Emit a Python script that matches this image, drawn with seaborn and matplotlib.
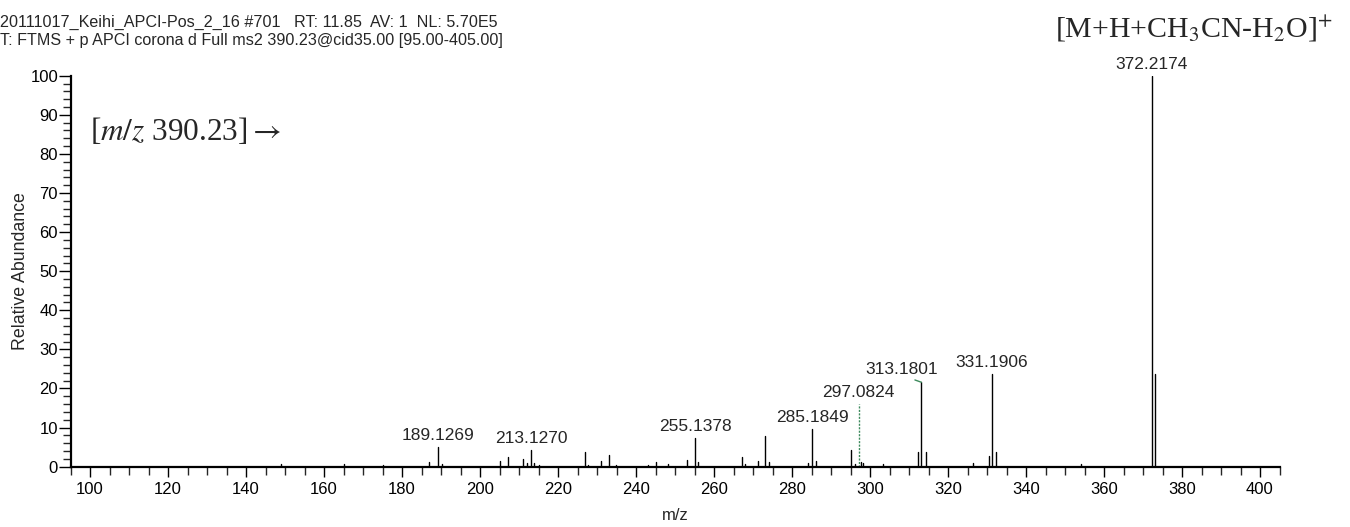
import matplotlib
matplotlib.use("Agg")
import matplotlib.pyplot as plt
from matplotlib.ticker import MultipleLocator
import seaborn as sns
import pandas as pd

# ---- data ----
peak_mz = [149.0, 165.0, 175.0, 187.0, 189.1269, 190.2,
           205.2, 207.1, 211.1, 212.0, 213.1270, 213.9, 215.0,
           227.0, 227.8, 231.1, 233.1, 234.8, 243.0, 245.1, 248.1, 253.2, 255.1378, 256.0,
           267.1, 268.0, 271.2, 273.1, 274.1, 284.2, 285.1849, 286.2,
           295.2, 296.2, 297.7, 298.3,
           303.4, 312.4, 313.1801, 314.3, 326.3, 330.4, 331.1906, 332.3,
           354.1, 372.2174, 373.0]
peak_abund = [0.7, 0.6, 0.5, 1.2, 5.1, 0.6,
              1.5, 2.4, 1.9, 1.0, 4.3, 1.0, 0.5,
              3.7, 0.5, 1.5, 3.0, 0.5, 0.5, 1.1, 0.8, 1.7, 7.3, 1.2,
              2.4, 0.6, 1.4, 7.9, 1.2, 1.0, 9.6, 1.5,
              4.3, 0.8, 1.2, 1.0,
              0.8, 3.7, 21.6, 3.8, 0.9, 2.7, 23.7, 3.8,
              0.7, 100.0, 23.7]

green_mz = [297.0824]
green_abund = [16.0]

label_mz = [189.1269, 213.1270, 255.1378, 285.1849, 297.0824, 313.1801, 331.1906, 372.2174]
label_text = ["189.1269", "213.1270", "255.1378", "285.1849", "297.0824", "313.1801", "331.1906", "372.2174"]

x_ticks = [100, 120, 140, 160, 180, 200, 220, 240, 260, 280, 300, 320, 340, 360, 380, 400]
y_ticks = [0, 10, 20, 30, 40, 50, 60, 70, 80, 90, 100]

header1 = "20111017_Keihi_APCI-Pos_2_16 #701   RT: 11.85  AV: 1  NL: 5.70E5"
header2 = "T: FTMS + p APCI corona d Full ms2 390.23@cid35.00 [95.00-405.00]"

# ---- build stick table ----
rows = []
for i, (m, a) in enumerate(zip(peak_mz, peak_abund)):
    rows.append({"peak": i, "mz": m, "abund": 0.0})
    rows.append({"peak": i, "mz": m, "abund": a})
df = pd.DataFrame(rows)
grows = []
for i, (m, a) in enumerate(zip(green_mz, green_abund)):
    grows.append({"peak": i, "mz": m, "abund": 0.0})
    grows.append({"peak": i, "mz": m, "abund": a})
gdf = pd.DataFrame(grows)

sns.set_theme(style="ticks")
plt.rcParams["font.family"] = ["Liberation Sans", "DejaVu Sans"]
plt.rcParams["mathtext.fontset"] = "stix"

fig = plt.figure(figsize=(13.5, 5.27), dpi=100)
ax = fig.add_axes([70.5 / 1350, 1 - 466.7 / 527, (1279.5 - 70.5) / 1350, (466.7 - 75.7) / 527])

sns.lineplot(data=df, x="mz", y="abund", units="peak", estimator=None,
             color="black", linewidth=1.0, ax=ax, sort=False)
sns.lineplot(data=gdf, x="mz", y="abund", units="peak", estimator=None,
             color="#3d8a5c", linewidth=1.0, linestyle=(0, (1.5, 1)), ax=ax, sort=False)

ax.set_xlim(95, 405)
ax.set_ylim(0, 100)
sns.despine(ax=ax)
for s in ["left", "bottom"]:
    ax.spines[s].set_linewidth(1.6)
    ax.spines[s].set_color("black")

ax.set_xticks(x_ticks)
ax.set_yticks(y_ticks)
ax.xaxis.set_minor_locator(MultipleLocator(5))
ax.yaxis.set_minor_locator(MultipleLocator(2))
ax.tick_params(axis="x", which="major", direction="out", length=7, width=1.0, pad=4, labelsize=12, colors="black")
ax.tick_params(axis="x", which="minor", direction="out", length=5.5, width=1.0)
ax.tick_params(axis="y", which="major", direction="out", length=8.5, width=1.0, pad=0.5, labelsize=12, colors="black")
ax.tick_params(axis="y", which="minor", direction="out", length=5.5, width=1.0)
ax.set_xlabel("m/z", fontsize=12, labelpad=8)
ax.set_ylabel("Relative Abundance", fontsize=12.8, labelpad=1)

# ---- peak labels ----
lookup = dict(zip(peak_mz + green_mz, peak_abund + green_abund))
for m, t in zip(label_mz, label_text):
    h = lookup[m]
    if t == "313.1801":
        ax.annotate(t, xy=(m, h), xytext=(-14, 4), textcoords="offset points",
                    ha="center", va="bottom", fontsize=12.5, annotation_clip=False,
                    arrowprops=dict(arrowstyle="-", color="#3d8a5c", lw=1.0,
                                    shrinkA=0, shrinkB=0, relpos=(0.55, 0.0)))
    else:
        ax.annotate(t, xy=(m, h), xytext=(0, 3), textcoords="offset points",
                    ha="center", va="bottom", fontsize=12.5, annotation_clip=False)

# ---- header and annotations ----
fig.text(0.0, 1 - 26.5 / 527, header1, fontsize=11.6, ha="left", va="baseline")
fig.text(0.0, 1 - 45.5 / 527, header2, fontsize=11.6, ha="left", va="baseline")
fig.text(1333 / 1350, 1 - 38 / 527, r"[M+H+CH$_3$CN-H$_2$O]$^{+}$",
         fontsize=21.5, family="Liberation Serif", ha="right", va="baseline")
fig.text(90 / 1350, 1 - 140 / 527, r"[$m/z$ 390.23]$\rightarrow$",
         fontsize=22.5, family="Liberation Serif", ha="left", va="baseline")

fig.savefig("out.png", dpi=100, facecolor="white")
